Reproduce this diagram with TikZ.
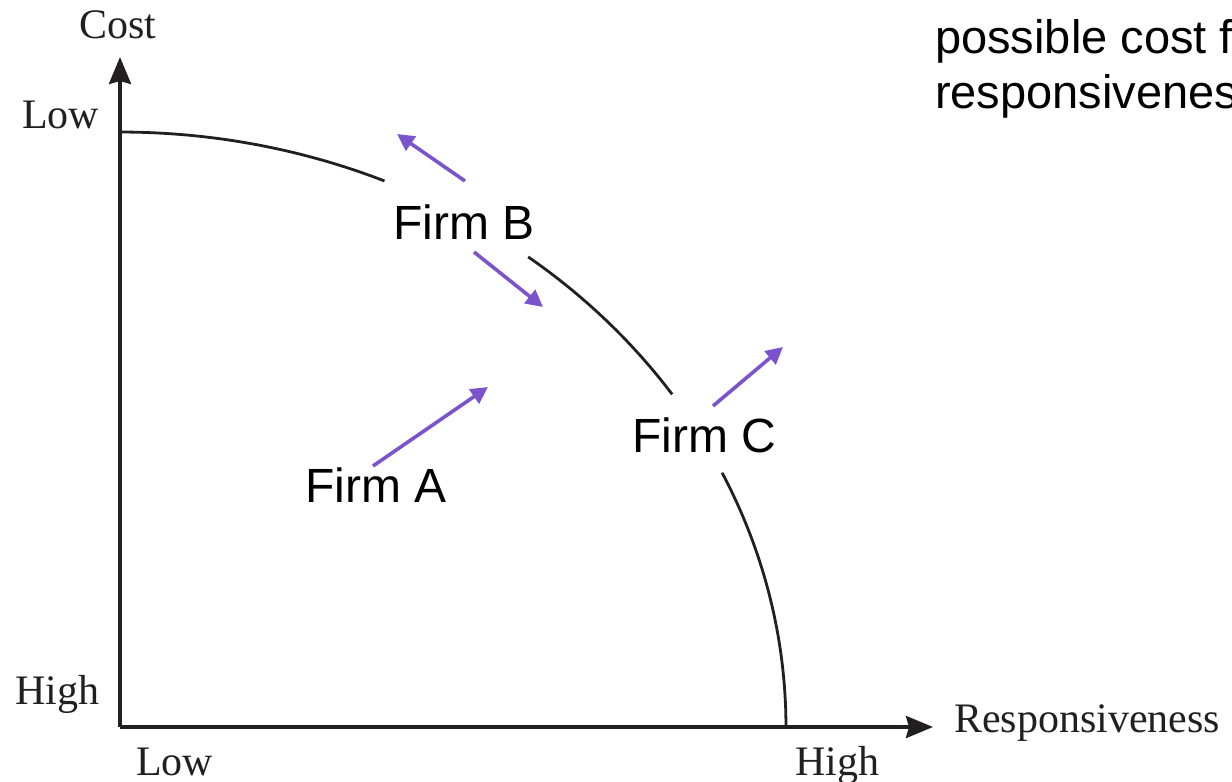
\documentclass[tikz,border=0pt]{standalone}
\usepackage{fontspec}
\setmainfont{Liberation Serif}
\newfontfamily\arial{Liberation Sans}
\usetikzlibrary{arrows.meta}
\definecolor{arrowpurple}{RGB}{123,84,205}
\definecolor{inkblack}{RGB}{35,31,32}
\tikzset{
  axisline/.style={draw=inkblack, line width=3.6pt, -{Stealth[length=27pt,width=22pt,inset=3pt]}},
  frontier/.style={draw=inkblack, line width=2.8pt},
  move/.style={draw=arrowpurple, line width=3.6pt, -{Triangle[length=17pt,width=17pt]}},
  axlabel/.style={anchor=base west, inner sep=0pt, text=inkblack, font=\fontsize{42}{48}\selectfont},
  firmlabel/.style={anchor=base west, inner sep=0pt, font=\arial\fontsize{48}{54}\selectfont},
  notetext/.style={anchor=base west, inner sep=0pt, font=\arial\fontsize{47}{54}\selectfont}
}
\begin{document}
\begin{tikzpicture}[x=1pt,y=-1pt]
\useasboundingbox (0,0) rectangle (1232,782);
\clip (0,0) rectangle (1232,782);
% axes
\coordinate (origin) at (120,727);
\coordinate (ytip) at (120,57);
\coordinate (xtip) at (933,727);
\draw[axisline] (origin) -- (ytip);
\draw[axisline] (origin) -- (xtip);
% frontier curve (quarter ellipse with gaps at the labels)
\draw[frontier] plot[domain=90:66.6, samples=40] ({120+666*cos(\x)}, {727-595*sin(\x)});
\draw[frontier] plot[domain=52.2:34.0, samples=40] ({120+666*cos(\x)}, {727-595*sin(\x)});
\draw[frontier] plot[domain=25.3:0, samples=40] ({120+666*cos(\x)}, {727-595*sin(\x)});
% axis labels
\node[axlabel] (cost) at (79,38) {Cost};
\node[axlabel] (ylow) at (22,128) {Low};
\node[axlabel] (yhigh) at (15,704) {High};
\node[axlabel] (xlow) at (136,775) {Low};
\node[axlabel] (xhigh) at (795,775) {High};
\node[axlabel] (resp) at (954,732) {Responsiveness};
% firm labels
\node[firmlabel] (firmB) at (393,239) {Firm B};
\node[firmlabel] (firmA) at (305,502) {Firm A};
\node[firmlabel] (firmC) at (632,452) {Firm C};
% movement arrows
\coordinate (bu0) at (465,181);
\coordinate (bu1) at (397,134);
\coordinate (bd0) at (474,252);
\coordinate (bd1) at (543,307);
\coordinate (a0) at (373,466);
\coordinate (a1) at (488,387);
\coordinate (c0) at (713,406);
\coordinate (c1) at (783,347);
\draw[move] (bu0) -- (bu1);
\draw[move] (bd0) -- (bd1);
\draw[move] (a0) -- (a1);
\draw[move] (c0) -- (c1);
% note text (cut by the right edge, as in the reference)
\node[notetext] (note1) at (935,53) {possible cost for};
\node[notetext] (note2) at (935,108) {responsiveness};
\end{tikzpicture}
\end{document}
